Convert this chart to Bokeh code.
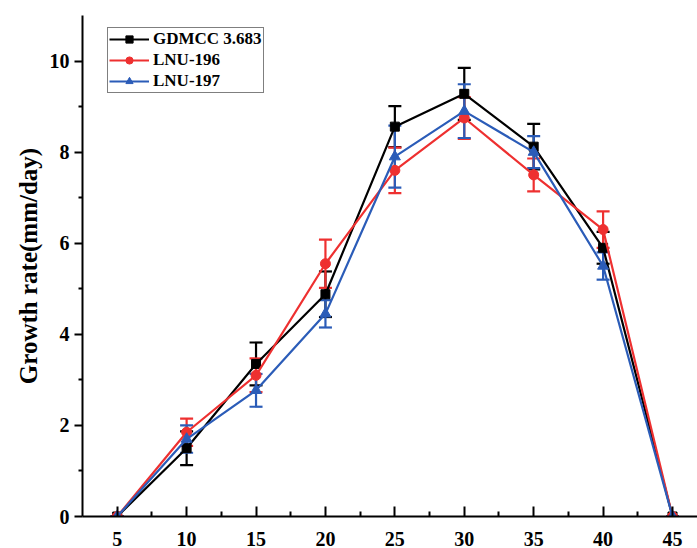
from bokeh.plotting import figure
from bokeh.models import ColumnDataSource, Whisker, TeeHead, Legend, LegendItem, FixedTicker, Range1d
from bokeh.embed import file_html
from bokeh.resources import INLINE

temps = [5, 10, 15, 20, 25, 30, 35, 40, 45]
gdmcc = [0, 1.50, 3.35, 4.88, 8.56, 9.28, 8.12, 5.90, 0]
gdmcc_err = [0, 0.37, 0.47, 0.50, 0.45, 0.57, 0.50, 0.35, 0]
lnu196 = [0, 1.85, 3.10, 5.55, 7.60, 8.75, 7.50, 6.30, 0]
lnu196_err = [0, 0.30, 0.37, 0.53, 0.50, 0.46, 0.36, 0.40, 0]
lnu197 = [0, 1.70, 2.77, 4.45, 7.90, 8.90, 8.00, 5.50, 0]
lnu197_err = [0, 0.30, 0.36, 0.30, 0.68, 0.59, 0.35, 0.30, 0]
x_ticks = [5, 10, 15, 20, 25, 30, 35, 40, 45]
y_ticks = [0, 2, 4, 6, 8, 10]

FONT = "Liberation Serif"

p = figure(width=697, height=548, output_backend="svg", toolbar_location=None,
           x_range=Range1d(2.5, 46.8), y_range=Range1d(0, 11.0),
           min_border_left=82, min_border_right=0, min_border_top=15, min_border_bottom=30)
p.outline_line_color = None
p.xgrid.visible = False
p.ygrid.visible = False

series = [
    ("GDMCC 3.683", gdmcc, gdmcc_err, "#000000", "square", 9),
    ("LNU-196", lnu196, lnu196_err, "#ee3030", "circle", 10),
    ("LNU-197", lnu197, lnu197_err, "#2b5cb8", "triangle", 11),
]

items = []
for name, vals, errs, col, mk, sz in series:
    src = ColumnDataSource(dict(
        x=temps, y=vals,
        upper=[v + e for v, e in zip(vals, errs)],
        lower=[v - e for v, e in zip(vals, errs)],
    ))
    ln = p.line("x", "y", source=src, line_color=col, line_width=2.2)
    w = Whisker(source=src, base="x", upper="upper", lower="lower",
                line_color=col, line_width=2.2,
                upper_head=TeeHead(size=13, line_color=col, line_width=2.2),
                lower_head=TeeHead(size=13, line_color=col, line_width=2.2))
    p.add_layout(w)
    sc = p.scatter("x", "y", source=src, marker=mk, size=sz, fill_color=col, line_color=col)
    items.append(LegendItem(label=name, renderers=[ln, sc]))

legend = Legend(items=items, location=(25, 423))
legend.label_text_font = FONT
legend.label_text_font_style = "bold"
legend.label_text_font_size = "17px"
legend.label_text_color = "#000000"
legend.glyph_width = 40
legend.glyph_height = 18
legend.label_height = 18
legend.spacing = 1
legend.padding = 1
legend.margin = 0
legend.label_standoff = 4
legend.border_line_color = "#000000"
legend.border_line_width = 1
legend.background_fill_alpha = 1
p.add_layout(legend)

p.xaxis.ticker = FixedTicker(ticks=x_ticks, minor_ticks=[7.5, 12.5, 17.5, 22.5, 27.5, 32.5, 37.5, 42.5])
p.yaxis.ticker = FixedTicker(ticks=y_ticks, minor_ticks=[1, 3, 5, 7, 9])

for ax in (p.xaxis[0], p.yaxis[0]):
    ax.axis_line_width = 2
    ax.axis_line_color = "#000000"
    ax.major_tick_line_width = 2
    ax.minor_tick_line_width = 2
    ax.major_tick_line_color = "#000000"
    ax.minor_tick_line_color = "#000000"
    ax.major_label_text_font = FONT
    ax.major_label_text_font_style = "bold"
    ax.major_label_text_font_size = "20px"
    ax.major_label_text_color = "#000000"

p.xaxis.major_tick_in = 10
p.xaxis.major_tick_out = 0
p.xaxis.minor_tick_in = 5
p.xaxis.minor_tick_out = 0
p.xaxis.major_label_standoff = 15

p.yaxis.major_tick_in = 0
p.yaxis.major_tick_out = 8
p.yaxis.minor_tick_in = 0
p.yaxis.minor_tick_out = 4
p.yaxis.major_label_standoff = 5

p.yaxis.axis_label = "Growth rate(mm/day)"
p.yaxis.axis_label_text_font = FONT
p.yaxis.axis_label_text_font_style = "bold"
p.yaxis.axis_label_text_font_size = "25px"
p.yaxis.axis_label_text_color = "#000000"
p.yaxis.axis_label_standoff = 5

open("out.html", "w").write(file_html(p, INLINE))
